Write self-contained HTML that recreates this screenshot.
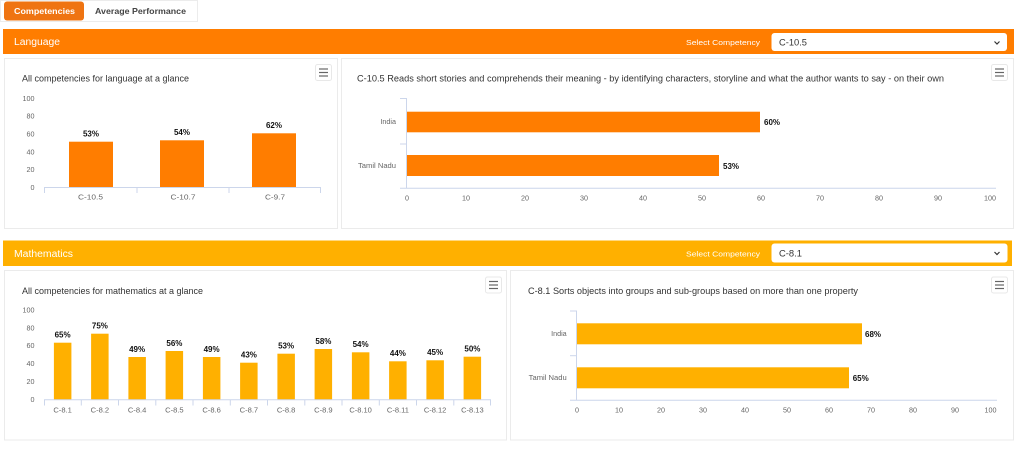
<!DOCTYPE html>
<html>
<head>
<meta charset="utf-8">
<style>
  html,body{margin:0;padding:0;background:#fff;}
  body{width:1024px;height:462px;overflow:hidden;}
  svg{display:block;}
  text{font-family:"Liberation Sans", sans-serif;}
</style>
</head>
<body>
<svg width="1024" height="462" viewBox="0 0 1024 462" xmlns="http://www.w3.org/2000/svg">
  <rect x="0" y="0" width="1024" height="462" fill="#ffffff"/>

  <!-- Tabs -->
  <rect x="0.5" y="0.5" width="197" height="21" fill="#fff" stroke="#ececec"/>
  <rect x="4" y="1.5" width="80" height="19" rx="3" fill="#ef7412"/>
  <text x="14" y="13.8" font-size="8.5" font-weight="bold" fill="#fff" textLength="61" lengthAdjust="spacingAndGlyphs">Competencies</text>
  <text x="95" y="13.8" font-size="8.5" font-weight="bold" fill="#444" textLength="91" lengthAdjust="spacingAndGlyphs">Average Performance</text>

  <!-- Language header -->
  <rect x="3" y="29" width="1011" height="25" fill="#ff7d00"/>
  <text x="14" y="45" font-size="10" fill="#fff" textLength="46" lengthAdjust="spacingAndGlyphs">Language</text>
  <text x="686" y="44.8" font-size="7.5" fill="#fff" textLength="74" lengthAdjust="spacingAndGlyphs">Select Competency</text>
  <rect x="771.5" y="33" width="235.5" height="18" rx="3" fill="#fff"/>
  <text x="779" y="45.5" font-size="9.5" fill="#333" textLength="28" lengthAdjust="spacingAndGlyphs">C-10.5</text>
  <path d="M994.5 41.5 L997 44 L999.5 41.5" fill="none" stroke="#333" stroke-width="1.2"/>

  <!-- Language panels -->
  <rect x="4.5" y="58.5" width="333" height="170" fill="#fff" stroke="#ebebeb"/>
  <rect x="341.5" y="58.5" width="672" height="170" fill="#fff" stroke="#ebebeb"/>

  <!-- Left language chart -->
  <text x="22" y="81.5" font-size="9" fill="#333" textLength="167" lengthAdjust="spacingAndGlyphs">All competencies for language at a glance</text>
  <rect x="315.5" y="64.5" width="16" height="16" rx="2" fill="#fff" stroke="#e8e8e8"/>
  <g stroke="#666" stroke-width="1.2">
    <line x1="319" y1="69" x2="328" y2="69"/>
    <line x1="319" y1="72.5" x2="328" y2="72.5"/>
    <line x1="319" y1="76" x2="328" y2="76"/>
  </g>
  <g font-size="7.2" fill="#666" text-anchor="end">
    <text x="34.5" y="100.8">100</text>
    <text x="34.5" y="118.6">80</text>
    <text x="34.5" y="136.5">60</text>
    <text x="34.5" y="154.4">40</text>
    <text x="34.5" y="172.2">20</text>
    <text x="34.5" y="190">0</text>
  </g>
  <g fill="#ff7d00">
    <rect x="69" y="141.7" width="44" height="45.8"/>
    <rect x="160" y="140.3" width="44" height="47.2"/>
    <rect x="252" y="133.3" width="44" height="54.2"/>
  </g>
  <g stroke="#ccd6eb" stroke-width="1">
    <line x1="44" y1="187.5" x2="321" y2="187.5"/>
    <line x1="44.5" y1="187.5" x2="44.5" y2="193"/>
    <line x1="137" y1="187.5" x2="137" y2="193"/>
    <line x1="229" y1="187.5" x2="229" y2="193"/>
    <line x1="320.5" y1="187.5" x2="320.5" y2="193"/>
  </g>
  <g font-size="8" font-weight="bold" fill="#111" text-anchor="middle">
    <text x="91" y="136.3">53%</text>
    <text x="182" y="134.9">54%</text>
    <text x="274" y="127.9">62%</text>
  </g>
  <g font-size="7.2" fill="#666" text-anchor="middle">
    <text x="90.5" y="199.5" textLength="25" lengthAdjust="spacingAndGlyphs">C-10.5</text>
    <text x="183" y="199.5" textLength="25" lengthAdjust="spacingAndGlyphs">C-10.7</text>
    <text x="275" y="199.5" textLength="20" lengthAdjust="spacingAndGlyphs">C-9.7</text>
  </g>

  <!-- Right language chart -->
  <text x="357" y="81.5" font-size="9" fill="#333" textLength="587" lengthAdjust="spacingAndGlyphs">C-10.5 Reads short stories and comprehends their meaning - by identifying characters, storyline and what the author wants to say - on their own</text>
  <rect x="991.5" y="64.5" width="16" height="16" rx="2" fill="#fff" stroke="#e8e8e8"/>
  <g stroke="#666" stroke-width="1.2">
    <line x1="995" y1="69" x2="1004" y2="69"/>
    <line x1="995" y1="72.5" x2="1004" y2="72.5"/>
    <line x1="995" y1="76" x2="1004" y2="76"/>
  </g>
  <g fill="#ff7d00">
    <rect x="407" y="111.7" width="353" height="20.6"/>
    <rect x="407" y="155" width="312" height="21"/>
  </g>
  <g stroke="#ccd6eb" stroke-width="1">
    <line x1="406.5" y1="98" x2="406.5" y2="188"/>
    <line x1="400" y1="98.5" x2="406.5" y2="98.5"/>
    <line x1="400" y1="144" x2="406.5" y2="144"/>
    <line x1="400" y1="188.3" x2="996" y2="188.3"/>
  </g>
  <g font-size="7.2" fill="#666" text-anchor="end">
    <text x="396" y="124">India</text>
    <text x="396" y="168" textLength="38" lengthAdjust="spacingAndGlyphs">Tamil Nadu</text>
  </g>
  <g font-size="8" font-weight="bold" fill="#111">
    <text x="764" y="125">60%</text>
    <text x="723" y="168.8">53%</text>
  </g>
  <g font-size="7.2" fill="#666" text-anchor="middle">
    <text x="407" y="200.6">0</text>
    <text x="466" y="200.6">10</text>
    <text x="525" y="200.6">20</text>
    <text x="584" y="200.6">30</text>
    <text x="643" y="200.6">40</text>
    <text x="702" y="200.6">50</text>
    <text x="761" y="200.6">60</text>
    <text x="820" y="200.6">70</text>
    <text x="879" y="200.6">80</text>
    <text x="938" y="200.6">90</text>
    <text x="996" y="200.6" text-anchor="end">100</text>
  </g>

  <!-- Mathematics header -->
  <rect x="3" y="240.5" width="1009" height="25.5" fill="#ffb000"/>
  <text x="14" y="256.8" font-size="10" fill="#fff" textLength="59" lengthAdjust="spacingAndGlyphs">Mathematics</text>
  <text x="686" y="256.3" font-size="7.5" fill="#fff" textLength="74" lengthAdjust="spacingAndGlyphs">Select Competency</text>
  <rect x="771.5" y="243.5" width="236" height="19" rx="3" fill="#fff"/>
  <text x="779" y="256.5" font-size="9.5" fill="#333" textLength="23" lengthAdjust="spacingAndGlyphs">C-8.1</text>
  <path d="M994.5 252 L997 254.5 L999.5 252" fill="none" stroke="#333" stroke-width="1.2"/>

  <!-- Math panels -->
  <rect x="4.5" y="270.5" width="502" height="169.5" fill="#fff" stroke="#ebebeb"/>
  <rect x="510.5" y="270.5" width="503" height="169.5" fill="#fff" stroke="#ebebeb"/>

  <!-- Left math chart -->
  <text x="22" y="294" font-size="9" fill="#333" textLength="181" lengthAdjust="spacingAndGlyphs">All competencies for mathematics at a glance</text>
  <rect x="485.5" y="277" width="16" height="16" rx="2" fill="#fff" stroke="#e8e8e8"/>
  <g stroke="#666" stroke-width="1.2">
    <line x1="489" y1="281.5" x2="498" y2="281.5"/>
    <line x1="489" y1="285" x2="498" y2="285"/>
    <line x1="489" y1="288.5" x2="498" y2="288.5"/>
  </g>
  <g font-size="7.2" fill="#666" text-anchor="end">
    <text x="34.5" y="312.5">100</text>
    <text x="34.5" y="330.4">80</text>
    <text x="34.5" y="348.2">60</text>
    <text x="34.5" y="366.1">40</text>
    <text x="34.5" y="383.9">20</text>
    <text x="34.5" y="401.8">0</text>
  </g>
  <g fill="#ffb000">
    <rect x="53.9" y="342.7" width="17.5" height="56.8"/>
    <rect x="91.1" y="333.7" width="17.5" height="65.8"/>
    <rect x="128.4" y="357" width="17.5" height="42.5"/>
    <rect x="165.6" y="351" width="17.5" height="48.5"/>
    <rect x="202.9" y="357" width="17.5" height="42.5"/>
    <rect x="240.1" y="362.7" width="17.5" height="36.8"/>
    <rect x="277.4" y="353.7" width="17.5" height="45.8"/>
    <rect x="314.6" y="349" width="17.5" height="50.5"/>
    <rect x="351.9" y="352.3" width="17.5" height="47.2"/>
    <rect x="389.1" y="361.3" width="17.5" height="38.2"/>
    <rect x="426.4" y="360.3" width="17.5" height="39.2"/>
    <rect x="463.6" y="356.7" width="17.5" height="42.8"/>
  </g>
  <g stroke="#ccd6eb" stroke-width="1">
    <line x1="44" y1="399.8" x2="491" y2="399.8"/>
    <line x1="44.5" y1="399.8" x2="44.5" y2="405.5"/>
    <line x1="81.3" y1="399.8" x2="81.3" y2="405.5"/>
    <line x1="118.5" y1="399.8" x2="118.5" y2="405.5"/>
    <line x1="155.8" y1="399.8" x2="155.8" y2="405.5"/>
    <line x1="193" y1="399.8" x2="193" y2="405.5"/>
    <line x1="230.3" y1="399.8" x2="230.3" y2="405.5"/>
    <line x1="267.5" y1="399.8" x2="267.5" y2="405.5"/>
    <line x1="304.8" y1="399.8" x2="304.8" y2="405.5"/>
    <line x1="342" y1="399.8" x2="342" y2="405.5"/>
    <line x1="379.3" y1="399.8" x2="379.3" y2="405.5"/>
    <line x1="416.5" y1="399.8" x2="416.5" y2="405.5"/>
    <line x1="453.8" y1="399.8" x2="453.8" y2="405.5"/>
    <line x1="490.5" y1="399.8" x2="490.5" y2="405.5"/>
  </g>
  <g font-size="8" font-weight="bold" fill="#111" text-anchor="middle">
    <text x="62.6" y="337.5">65%</text>
    <text x="99.9" y="328.5">75%</text>
    <text x="137.1" y="351.8">49%</text>
    <text x="174.4" y="345.8">56%</text>
    <text x="211.6" y="351.8">49%</text>
    <text x="248.9" y="357.5">43%</text>
    <text x="286.1" y="348.5">53%</text>
    <text x="323.4" y="343.8">58%</text>
    <text x="360.6" y="347.1">54%</text>
    <text x="397.9" y="356.1">44%</text>
    <text x="435.1" y="355.1">45%</text>
    <text x="472.4" y="351.5">50%</text>
  </g>
  <g font-size="7.2" fill="#666" text-anchor="middle">
    <text x="62.6" y="412.5" textLength="18.5" lengthAdjust="spacingAndGlyphs">C-8.1</text>
    <text x="99.9" y="412.5" textLength="18.5" lengthAdjust="spacingAndGlyphs">C-8.2</text>
    <text x="137.1" y="412.5" textLength="18.5" lengthAdjust="spacingAndGlyphs">C-8.4</text>
    <text x="174.4" y="412.5" textLength="18.5" lengthAdjust="spacingAndGlyphs">C-8.5</text>
    <text x="211.6" y="412.5" textLength="18.5" lengthAdjust="spacingAndGlyphs">C-8.6</text>
    <text x="248.9" y="412.5" textLength="18.5" lengthAdjust="spacingAndGlyphs">C-8.7</text>
    <text x="286.1" y="412.5" textLength="18.5" lengthAdjust="spacingAndGlyphs">C-8.8</text>
    <text x="323.4" y="412.5" textLength="18.5" lengthAdjust="spacingAndGlyphs">C-8.9</text>
    <text x="360.6" y="412.5" textLength="22.5" lengthAdjust="spacingAndGlyphs">C-8.10</text>
    <text x="397.9" y="412.5" textLength="22" lengthAdjust="spacingAndGlyphs">C-8.11</text>
    <text x="435.1" y="412.5" textLength="22.5" lengthAdjust="spacingAndGlyphs">C-8.12</text>
    <text x="472.4" y="412.5" textLength="22.5" lengthAdjust="spacingAndGlyphs">C-8.13</text>
  </g>

  <!-- Right math chart -->
  <text x="528" y="294" font-size="9" fill="#333" textLength="330" lengthAdjust="spacingAndGlyphs">C-8.1 Sorts objects into groups and sub-groups based on more than one property</text>
  <rect x="991.5" y="277" width="16" height="16" rx="2" fill="#fff" stroke="#e8e8e8"/>
  <g stroke="#666" stroke-width="1.2">
    <line x1="995" y1="281.5" x2="1004" y2="281.5"/>
    <line x1="995" y1="285" x2="1004" y2="285"/>
    <line x1="995" y1="288.5" x2="1004" y2="288.5"/>
  </g>
  <g fill="#ffb000">
    <rect x="577" y="323.3" width="285" height="21"/>
    <rect x="577" y="367.3" width="272" height="21"/>
  </g>
  <g stroke="#ccd6eb" stroke-width="1">
    <line x1="576.5" y1="310.5" x2="576.5" y2="400"/>
    <line x1="570" y1="311" x2="576.5" y2="311"/>
    <line x1="570" y1="355.7" x2="576.5" y2="355.7"/>
    <line x1="570" y1="400.3" x2="997" y2="400.3"/>
  </g>
  <g font-size="7.2" fill="#666" text-anchor="end">
    <text x="566.7" y="336">India</text>
    <text x="566.7" y="380" textLength="38" lengthAdjust="spacingAndGlyphs">Tamil Nadu</text>
  </g>
  <g font-size="8" font-weight="bold" fill="#111">
    <text x="865" y="337">68%</text>
    <text x="852.7" y="381.2">65%</text>
  </g>
  <g font-size="7.2" fill="#666" text-anchor="middle">
    <text x="577" y="412.6">0</text>
    <text x="619" y="412.6">10</text>
    <text x="661" y="412.6">20</text>
    <text x="703" y="412.6">30</text>
    <text x="745" y="412.6">40</text>
    <text x="787" y="412.6">50</text>
    <text x="829" y="412.6">60</text>
    <text x="871" y="412.6">70</text>
    <text x="913" y="412.6">80</text>
    <text x="955" y="412.6">90</text>
    <text x="996.5" y="412.6" text-anchor="end">100</text>
  </g>
</svg>
</body>
</html>
